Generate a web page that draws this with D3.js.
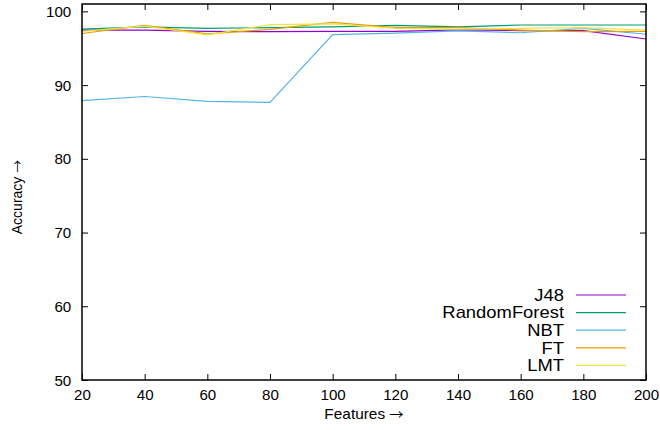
<!DOCTYPE html>
<html>
<head>
<meta charset="utf-8">
<script src="https://cdn.jsdelivr.net/npm/d3@7"></script>
<style>
  html, body { margin: 0; padding: 0; background: #fff; }
  svg { display: block; }
  text { font-family: "Liberation Sans", Arial, Helvetica, sans-serif; fill: #000; }
</style>
</head>
<body>
<svg id="chart" width="660" height="430"></svg>
<script>
const features = [20, 40, 60, 80, 100, 120, 140, 160, 180, 200];
const j48 = [97.45, 97.45, 97.3, 97.25, 97.3, 97.3, 97.5, 97.4, 97.4, 96.25];
const randomForest = [97.6, 97.9, 97.7, 97.8, 97.9, 98.1, 97.9, 98.15, 98.15, 98.15];
const nbt = [87.9, 88.45, 87.8, 87.65, 96.85, 97.05, 97.35, 97.1, 97.7, 96.9];
const ft = [97.0, 98.1, 96.95, 97.55, 98.5, 97.8, 97.8, 97.45, 97.25, 97.3];
const lmt = [97.3, 98.0, 96.8, 98.2, 98.3, 97.7, 97.6, 97.7, 97.8, 97.45];
const seriesNames = ["J48", "RandomForest", "NBT", "FT", "LMT"];
const seriesColors = ["#9400d3", "#009e73", "#56b4e9", "#e69f00", "#f0e442"];
const xTicks = [20, 40, 60, 80, 100, 120, 140, 160, 180, 200];
const yTicks = [50, 60, 70, 80, 90, 100];

const series = [j48, randomForest, nbt, ft, lmt].map((vals, i) => ({
  name: seriesNames[i], color: seriesColors[i],
  points: vals.map((v, k) => [features[k], v])
}));

const L = 82, R = 646, T = 4, B = 380;
const svg = d3.select("#chart");
const x = d3.scaleLinear().domain([20, 200]).range([L, R]);
const y = d3.scaleLinear().domain([50, 101]).range([B, T]);

// lines
const line = d3.line().x(d => x(d[0])).y(d => y(d[1]));
svg.append("g").selectAll("path").data(series).join("path")
  .attr("d", d => line(d.points))
  .attr("fill", "none")
  .attr("stroke", d => d.color)
  .attr("stroke-width", 1.2);

// axes
const fmt = d3.format("d");
const axBottom = svg.append("g").attr("transform", `translate(0,${B})`)
  .call(d3.axisBottom(x).tickValues(xTicks).tickFormat(fmt).tickSizeInner(-6).tickSizeOuter(0).tickPadding(10));
const axTop = svg.append("g").attr("transform", `translate(0,${T})`)
  .call(d3.axisTop(x).tickValues(xTicks).tickFormat("").tickSizeInner(-6).tickSizeOuter(0));
const axLeft = svg.append("g").attr("transform", `translate(${L},0)`)
  .call(d3.axisLeft(y).tickValues(yTicks).tickFormat(fmt).tickSizeInner(-6).tickSizeOuter(0).tickPadding(10));
const axRight = svg.append("g").attr("transform", `translate(${R},0)`)
  .call(d3.axisRight(y).tickValues(yTicks).tickFormat("").tickSizeInner(-6).tickSizeOuter(0));
[axBottom, axTop, axLeft, axRight].forEach(g => {
  g.select(".domain").remove();
  g.selectAll(".tick line").attr("stroke", "#000").attr("stroke-width", 1);
  g.selectAll(".tick text").attr("font-size", 14).attr("font-family", "Liberation Sans, Arial, sans-serif")
    .attr("fill", "#000").attr("transform", "scale(1.08,1)");
});
axLeft.selectAll(".tick text").attr("dy", "0.36em");

// frame
svg.append("rect").attr("x", L).attr("y", T).attr("width", R - L).attr("height", B - T)
  .attr("fill", "none").attr("stroke", "#000").attr("stroke-width", 1.5);

// axis titles
const xTitle = svg.append("text").attr("transform", `translate(${(L + R) / 2},419) scale(1.1,1)`)
  .attr("text-anchor", "middle").attr("font-size", 14);
xTitle.append("tspan").text("Features ");
xTitle.append("tspan").attr("font-family", "Noto Sans CJK JP").attr("font-size", 13).text("\u2192");
const yTitle = svg.append("text").attr("transform", `translate(22,197) rotate(-90)`)
  .attr("text-anchor", "middle").attr("font-size", 14);
yTitle.append("tspan").text("Accuracy ");
yTitle.append("tspan").attr("font-family", "Noto Sans CJK JP").attr("font-size", 13).text("\u2192");

// legend
const legend = svg.append("g");
series.forEach((s, i) => {
  const ly = 295 + i * 17.6;
  legend.append("text").attr("transform", `translate(564,${ly}) scale(1.15,1)`).attr("dy", "0.36em")
    .attr("text-anchor", "end").attr("font-size", 16).text(s.name);
  legend.append("line").attr("x1", 576).attr("x2", 626).attr("y1", ly).attr("y2", ly)
    .attr("stroke", s.color).attr("stroke-width", 1.2);
});
</script>
</body>
</html>
